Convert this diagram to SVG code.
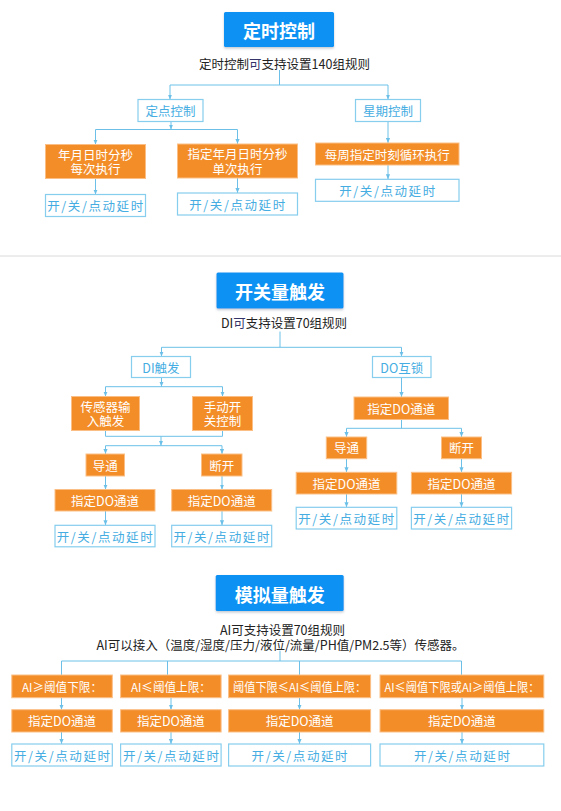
<svg xmlns="http://www.w3.org/2000/svg" width="561" height="811" viewBox="0 0 561 811">
<defs>
<marker id="ar" viewBox="0 0 6 6" refX="6" refY="3" markerWidth="5" markerHeight="5" markerUnits="userSpaceOnUse" orient="auto">
<path d="M0,0.5 L6,3 L0,5.5 z" fill="#6cc0e8"/>
</marker>
<filter id="sh" x="-10%" y="-10%" width="120%" height="140%">
<feDropShadow dx="0" dy="1.5" stdDeviation="1" flood-color="#7a8a9a" flood-opacity="0.45"/>
</filter>
</defs>
<style>
text{font-family:"Noto Sans CJK SC","Noto Sans",sans-serif;text-anchor:middle;dominant-baseline:central}
.title rect{fill:#0d92f4;filter:url(#sh)}
.title text{fill:#fff;font-size:18px;font-weight:700}
.sub{fill:#222;font-size:12.5px}
.or rect{fill:#f38d28;stroke:#fbbf86;stroke-width:1}
.or text{fill:#fff;font-size:12.5px}
.lb rect{fill:#fff;stroke:#86cdee;stroke-width:1.2}
.lb text{fill:#45ade2;font-size:12.5px}
.lb text.sp{letter-spacing:1.6px}
.k{fill:#34346a}
#connectors path{fill:none;stroke:#6cc0e8;stroke-width:1}
#connectors path.a{marker-end:url(#ar)}
</style>
<rect width="561" height="811" fill="#fff"/>
<line x1="0" y1="256" x2="561" y2="256" stroke="#dadada" stroke-width="1"/>

<g id="connectors">
<!-- top -->
<path d="M279.5,70 V85 M170,85 H388"/>
<path class="a" d="M170,85 V99.5"/>
<path class="a" d="M388,85 V99.5"/>
<path class="a" d="M171,121.5 V129.5"/>
<path d="M95.5,129.5 H237.5"/>
<path class="a" d="M95.5,129.5 V144.5"/>
<path class="a" d="M237.5,129.5 V144"/>
<path class="a" d="M95.5,178.7 V194.5"/>
<path class="a" d="M237.5,178 V193"/>
<path class="a" d="M388,121.5 V143"/>
<path class="a" d="M388,165 V179.3"/>
<!-- middle -->
<path d="M280,331.5 V347.3 M161.5,347.3 H401.5"/>
<path class="a" d="M161.5,347.3 V356.5"/>
<path class="a" d="M401.5,347.3 V356.5"/>
<path class="a" d="M161.5,377.5 V386.7"/>
<path d="M105.5,386.7 H222.5"/>
<path class="a" d="M105.5,386.7 V396.5"/>
<path class="a" d="M222.5,386.7 V396.5"/>
<path d="M105.5,430.7 V436.3 H222.5 V430.7"/>
<path class="a" d="M161,436.3 V445.7"/>
<path d="M105.5,445.7 H222"/>
<path class="a" d="M105.5,445.7 V454"/>
<path class="a" d="M222,445.7 V454"/>
<path class="a" d="M105.5,476 V489.5"/>
<path class="a" d="M222,476 V489.5"/>
<path class="a" d="M105.5,511 V525.3"/>
<path class="a" d="M222,511 V525.3"/>
<path class="a" d="M401.5,377.5 V397"/>
<path d="M401.5,419.5 V428.3 M346.5,428.3 H461.5"/>
<path class="a" d="M346.5,428.3 V437"/>
<path class="a" d="M461.5,428.3 V437"/>
<path class="a" d="M346.5,458.7 V472.3"/>
<path class="a" d="M461.5,458.7 V472.3"/>
<path class="a" d="M346.5,494 V507.3"/>
<path class="a" d="M461.5,494 V507.3"/>
<!-- bottom -->
<path d="M280,650.7 V661 M61.5,661 H461.5 M61.5,661 V675 M167.5,661 V675 M299.5,661 V675 M461.5,661 V675"/>
<path class="a" d="M61.5,697.7 V709.7"/>
<path class="a" d="M171,697.7 V709.7"/>
<path class="a" d="M299.5,697.7 V709.7"/>
<path class="a" d="M462,697.7 V709.7"/>
<path class="a" d="M61.5,732 V744"/>
<path class="a" d="M171,732 V744"/>
<path class="a" d="M299.5,732 V744"/>
<path class="a" d="M462,732 V744"/>
</g>

<!-- ===== top section ===== -->
<g id="t-title" class="title"><rect x="224" y="12" width="110" height="35" rx="1.5"/><text x="279" y="30">定时控制</text></g>
<g id="t-sub"><text class="sub" x="284.5" y="63">定时控制<tspan class="k">可</tspan>支持设置140组规则</text></g>
<g id="t-dd" class="lb"><rect x="138" y="99.5" width="65" height="22"/><text x="170.5" y="110.5">定点控制</text></g>
<g id="t-xq" class="lb"><rect x="355.5" y="99.5" width="65" height="22"/><text x="388" y="110.5">星期控制</text></g>
<g id="t-o1" class="or"><rect x="45.5" y="144.5" width="100" height="34"/><text x="95.5" y="154.3">年月日时分秒</text><text x="95.5" y="168.8">每次执行</text></g>
<g id="t-o2" class="or"><rect x="177.5" y="144" width="120" height="34"/><text x="237.5" y="153.8">指定年月日时分秒</text><text x="237.5" y="168.3">单次执行</text></g>
<g id="t-o3" class="or"><rect x="315.5" y="143" width="143.5" height="22"/><text x="387.3" y="154">每周指定时刻循环执行</text></g>
<g id="t-l1" class="lb"><rect x="45.5" y="194.5" width="100" height="22"/><text class="sp" x="96" y="205.5">开/关/点动延时</text></g>
<g id="t-l2" class="lb"><rect x="177.5" y="193" width="120" height="22"/><text class="sp" x="238" y="204">开/关/点动延时</text></g>
<g id="t-l3" class="lb"><rect x="315.5" y="179.3" width="143.5" height="22"/><text class="sp" x="388" y="190.3">开/关/点动延时</text></g>

<!-- ===== middle section ===== -->
<g id="m-title" class="title"><rect x="216.5" y="272.5" width="127" height="36" rx="1.5"/><text x="280" y="291">开关量触发</text></g>
<g id="m-sub"><text class="sub" x="284" y="322">DI<tspan class="k">可</tspan>支持设置70组规则</text></g>
<g id="m-di" class="lb"><rect x="131.5" y="356.5" width="59" height="21"/><text x="161" y="367">DI触发</text></g>
<g id="m-do" class="lb"><rect x="372.5" y="356.5" width="58.5" height="21"/><text x="401.8" y="367">DO互锁</text></g>
<g id="m-cg" class="or"><rect x="71.5" y="396.5" width="68" height="34"/><text x="105.5" y="406.3">传感器输</text><text x="105.5" y="420.8">入触发</text></g>
<g id="m-sd" class="or"><rect x="192.5" y="396.5" width="60" height="34"/><text x="222.5" y="406.3">手动开</text><text x="222.5" y="420.8">关控制</text></g>
<g id="m-dt1" class="or"><rect x="86" y="454" width="38.5" height="22"/><text x="105.3" y="465">导通</text></g>
<g id="m-dk1" class="or"><rect x="201.5" y="454" width="40.5" height="22"/><text x="221.7" y="465">断开</text></g>
<g id="m-do1" class="or"><rect x="55" y="489.5" width="100" height="21.5"/><text x="105" y="500.3">指定DO通道</text></g>
<g id="m-do2" class="or"><rect x="171.7" y="489.5" width="100" height="21.5"/><text x="221.7" y="500.3">指定DO通道</text></g>
<g id="m-l1" class="lb"><rect x="55" y="525.3" width="100" height="21.5"/><text class="sp" x="105.5" y="536">开/关/点动延时</text></g>
<g id="m-l2" class="lb"><rect x="171.7" y="525.3" width="100" height="21.5"/><text class="sp" x="222.2" y="536">开/关/点动延时</text></g>
<g id="m-do3" class="or"><rect x="354" y="397" width="94.5" height="22.5"/><text x="401.3" y="408.2">指定DO通道</text></g>
<g id="m-dt2" class="or"><rect x="326.3" y="437" width="40.4" height="21.7"/><text x="346.5" y="447.8">导通</text></g>
<g id="m-dk2" class="or"><rect x="441.5" y="437" width="40" height="21.7"/><text x="461.5" y="447.8">断开</text></g>
<g id="m-do4" class="or"><rect x="296.2" y="472.3" width="100.6" height="21.7"/><text x="346.5" y="483.2">指定DO通道</text></g>
<g id="m-do5" class="or"><rect x="411.4" y="472.3" width="100.2" height="21.7"/><text x="461.5" y="483.2">指定DO通道</text></g>
<g id="m-l3" class="lb"><rect x="296.2" y="507.3" width="100.6" height="21.7"/><text class="sp" x="347" y="518.2">开/关/点动延时</text></g>
<g id="m-l4" class="lb"><rect x="411.4" y="507.3" width="100.2" height="21.7"/><text class="sp" x="462" y="518.2">开/关/点动延时</text></g>

<!-- ===== bottom section ===== -->
<g id="b-title" class="title"><rect x="215.7" y="575" width="128" height="36" rx="1.5"/><text x="279.7" y="593.5">模拟量触发</text></g>
<g id="b-sub"><text class="sub" x="282.5" y="629.7">AI可支持设置70组规则</text><text class="sub" x="280.5" y="644.2">AI可以接入（温度/湿度/压力/液位/流量/PH值/PM2.5等）传感器。</text></g>
<g id="b-c1" class="or"><rect x="11.8" y="675" width="100.5" height="22.7"/><text x="62" y="686.4" style="font-size:12px" textLength="80" lengthAdjust="spacingAndGlyphs">AI≥阈值下限：</text></g>
<g id="b-c2" class="or"><rect x="120.6" y="675" width="100.5" height="22.7"/><text x="170.9" y="686.4" style="font-size:12px" textLength="80" lengthAdjust="spacingAndGlyphs">AI≤阈值上限：</text></g>
<g id="b-c3" class="or"><rect x="228.6" y="675" width="142" height="22.7"/><text x="299.6" y="686.4" style="font-size:12px" textLength="133" lengthAdjust="spacingAndGlyphs">阈值下限≤AI≤阈值上限：</text></g>
<g id="b-c4" class="or"><rect x="380" y="675" width="163.8" height="22.7"/><text x="461.9" y="686.4" style="font-size:12px" textLength="155" lengthAdjust="spacingAndGlyphs">AI≤阈值下限或AI≥阈值上限：</text></g>
<g id="b-d1" class="or"><rect x="11.8" y="709.7" width="100.5" height="22.3"/><text x="62" y="720.9">指定DO通道</text></g>
<g id="b-d2" class="or"><rect x="120.6" y="709.7" width="100.5" height="22.3"/><text x="170.9" y="720.9">指定DO通道</text></g>
<g id="b-d3" class="or"><rect x="228.6" y="709.7" width="142" height="22.3"/><text x="299.6" y="720.9">指定DO通道</text></g>
<g id="b-d4" class="or"><rect x="380" y="709.7" width="163.8" height="22.3"/><text x="461.9" y="720.9">指定DO通道</text></g>
<g id="b-l1" class="lb"><rect x="11.8" y="744" width="100.5" height="22"/><text class="sp" x="62.8" y="755">开/关/点动延时</text></g>
<g id="b-l2" class="lb"><rect x="120.6" y="744" width="100.5" height="22"/><text class="sp" x="171.7" y="755">开/关/点动延时</text></g>
<g id="b-l3" class="lb"><rect x="228.6" y="744" width="142" height="22"/><text class="sp" x="300.4" y="755">开/关/点动延时</text></g>
<g id="b-l4" class="lb"><rect x="380" y="744" width="163.8" height="22"/><text class="sp" x="462.7" y="755">开/关/点动延时</text></g>
</svg>
